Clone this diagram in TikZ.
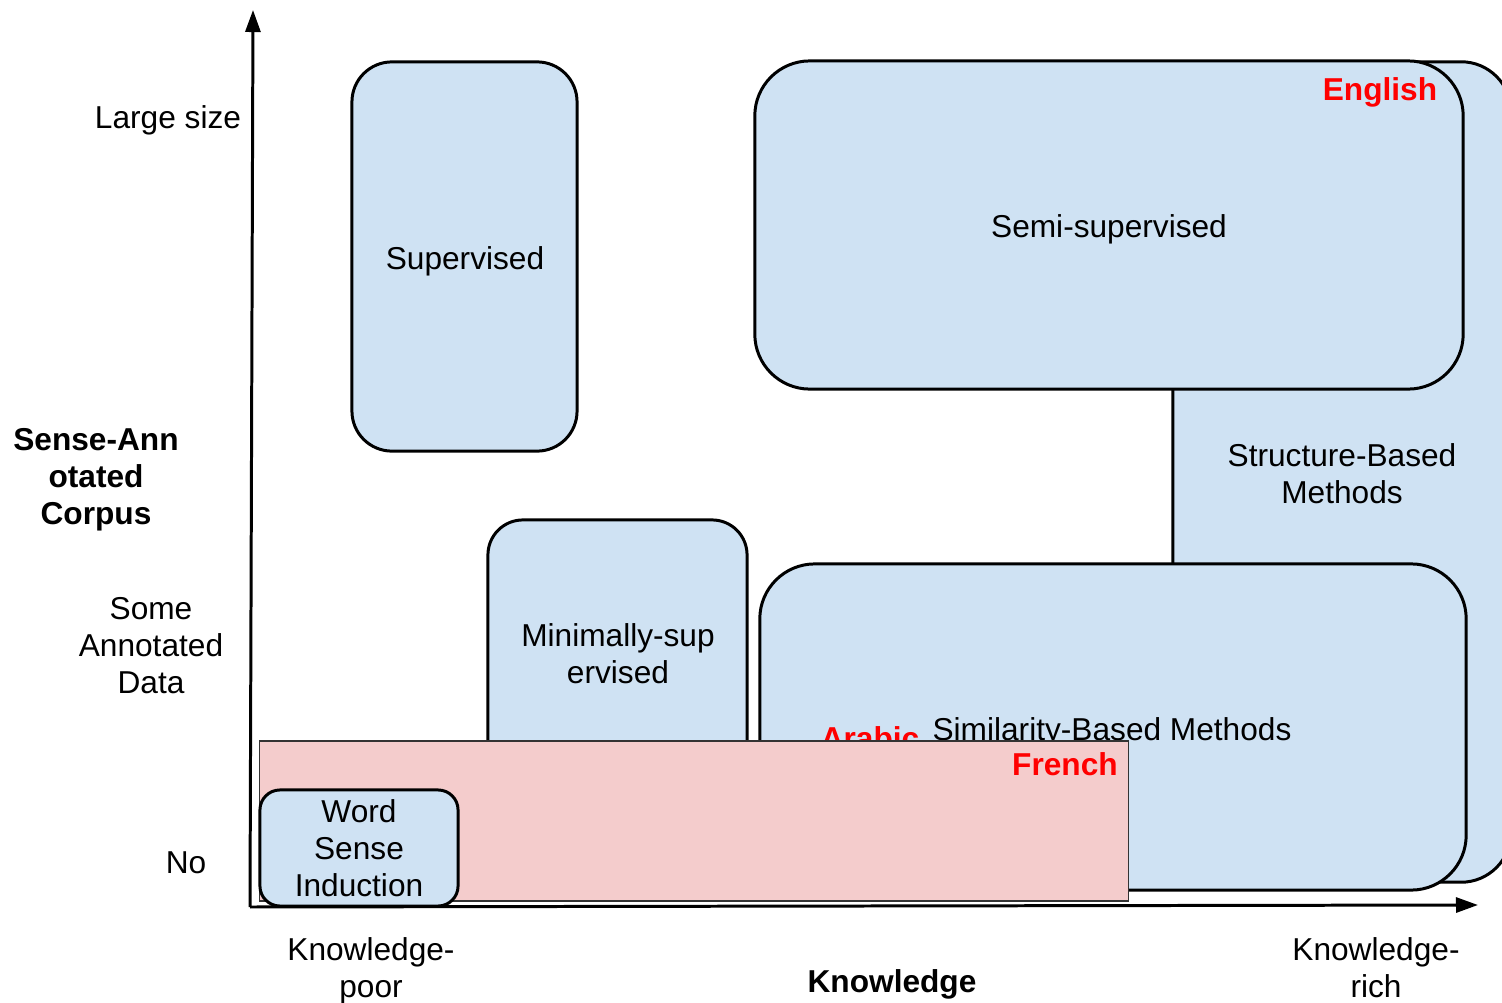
\documentclass[tikz,border=0pt]{standalone}
\usepackage{fontspec}
\setmainfont{Liberation Sans}
\usetikzlibrary{arrows.meta}
\definecolor{boxblue}{HTML}{CFE2F3}
\definecolor{boxpink}{HTML}{F4CCCC}
\definecolor{langred}{HTML}{FF0000}
\tikzset{
  lbl/.style={inner sep=0pt, align=center, font=\fontsize{9}{10.5}\selectfont},
  blbl/.style={lbl, font=\fontsize{9}{10.5}\selectfont\bfseries},
  lang/.style={blbl, text=langred},
  method/.style={draw=black, line width=0.85pt, fill=boxblue, rounded corners=#1, inner sep=0pt},
  method/.default=0.4cm,
  axis/.style={line width=0.85pt, -{Triangle[length=0.22cm,width=0.15cm]}},
}
\begin{document}
\begin{tikzpicture}[x=0.01cm,y=-0.01cm]
\clip (0,0) rectangle (1502,1003);
\fill[white] (0,0) rectangle (1502,1003);

% method families
\node[method=0.5cm, minimum width=3.38cm, minimum height=8.20cm] (struct) at (1342,472) {};
\node[lbl] (structtxt) at (1342,474) {Structure-Based\\Methods};
\node[method=0.55cm, minimum width=7.08cm, minimum height=3.28cm] (semi) at (1109,225) {};
\node[lbl] (semitxt) at (1109,229) {Semi-supervised};
\node[lang] (english) at (1380,92) {English};
\node[method=0.4cm, minimum width=2.25cm, minimum height=3.89cm] (sup) at (464.5,256.5) {};
\node[lbl] (suptxt) at (465,261) {Supervised};
\node[method=0.35cm, minimum width=2.59cm, minimum height=2.66cm] (minim) at (617.5,653) {};
\node[lbl] (minimtxt) at (618,654) {Minimally-sup\\ervised};
\node[method=0.55cm, minimum width=7.06cm, minimum height=3.26cm] (simil) at (1113,727) {};
\node[lbl] (similtxt) at (1112,732) {Similarity-Based Methods};
\node[lang] (arabic) at (870,738) {Arabic};

% knowledge-poor languages
\node[draw=black!80, line width=0.35pt, fill=boxpink, minimum width=8.68cm, minimum height=1.60cm, inner sep=0pt] (pink) at (694,821) {};
\node[lang] (french) at (1065,764) {French};
\node[method=0.2cm, minimum width=1.98cm, minimum height=1.16cm] (wsi) at (359,848) {};
\node[lbl] (wsitxt) at (359,848.5) {Word\\Sense\\Induction};

% axes
\coordinate (origin) at (250,907);
\coordinate (ytop) at (253,10);
\coordinate (xend) at (1478,905);
\draw[axis] (origin) -- (ytop);
\draw[axis] (origin) -- (xend);

% axis labels
\node[lbl] (large) at (168,120) {Large size};
\node[blbl] (corpus) at (96,480) {Sense-Ann\\otated\\Corpus};
\node[lbl] (some) at (151,646) {Some\\Annotated\\Data};
\node[lbl] (no) at (186,863) {No};
\node[lbl] (kpoor) at (371,971) {Knowledge-\\poor};
\node[blbl] (know) at (892,984) {Knowledge};
\node[lbl] (krich) at (1376,968) {Knowledge-\\rich};
\end{tikzpicture}
\end{document}
